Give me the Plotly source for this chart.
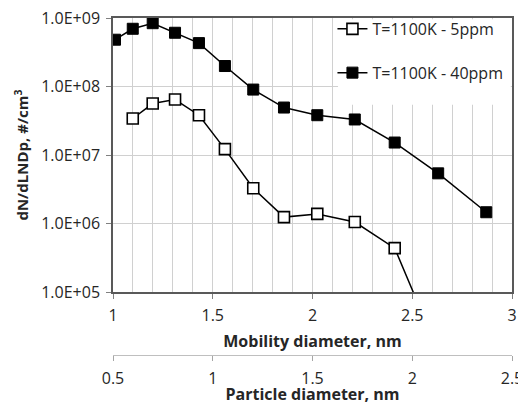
import plotly.graph_objects as go

# ---- data ----
mobility_5ppm = [1.099, 1.199, 1.311, 1.431, 1.561, 1.703, 1.857, 2.024, 2.212, 2.412, 2.633]
conc_5ppm = [3.41e7, 5.64e7, 6.45e7, 3.81e7, 1.22e7, 3.27e6, 1.24e6, 1.38e6, 1.05e6, 4.37e5, 1.3e4]

mobility_40ppm = [1.01, 1.099, 1.199, 1.311, 1.431, 1.561, 1.703, 1.857, 2.024, 2.212, 2.412, 2.63, 2.871]
conc_40ppm = [4.82e8, 6.96e8, 8.40e8, 6.09e8, 4.30e8, 1.99e8, 9.02e7, 4.93e7, 3.81e7, 3.30e7, 1.52e7, 5.40e6, 1.46e6]

y_tickvals = [1e5, 1e6, 1e7, 1e8, 1e9]
y_ticktext = ["1.0E+05", "1.0E+06", "1.0E+07", "1.0E+08", "1.0E+09"]
mobility_ticks = [1, 1.5, 2, 2.5, 3]
particle_ticks = [0.5, 1, 1.5, 2, 2.5]

name_5 = "T=1100K - 5ppm"
name_40 = "T=1100K - 40ppm"

FONT = "Open Sans"
TXT = "#262626"

fig = go.Figure()
fig.add_trace(go.Scatter(
    x=mobility_5ppm, y=conc_5ppm, name=name_5, mode="lines+markers",
    line=dict(color="black", width=1.5),
    marker=dict(symbol="square", size=11, color="white", line=dict(color="black", width=1.6)),
    legendgroup="a",
))
fig.add_trace(go.Scatter(
    x=mobility_40ppm, y=conc_40ppm, name=name_40, mode="lines+markers",
    line=dict(color="black", width=1.5),
    marker=dict(symbol="square", size=11, color="black", line=dict(color="black", width=1)),
    legendgroup="b",
))
# helper trace so the secondary (particle diameter) axis is drawn
fig.add_trace(go.Scatter(
    x=particle_ticks, y=[None] * len(particle_ticks), xaxis="x2", mode="markers",
    showlegend=False, hoverinfo="skip",
))

# the page body has an 8px margin, so the figure starts at (8, 8)
W, H = 518, 397
L, R, T, B = 105, 14, 10, 50
plot_bottom_px = 292 - 8
paper_h = H - T - B
y_dom0 = (H - B - plot_bottom_px) / paper_h

# white backdrop of the legend (hides the gridlines behind it), kept just inside the frame
fig.add_shape(
    type="rect", xref="paper", yref="paper",
    x0=0.564, x1=1.0 - 1.2 / 399, y0=y_dom0 + (1 - y_dom0) * 0.683, y1=1.0 - 1.2 / paper_h,
    fillcolor="white", line=dict(width=0), layer="above",
)

fig.update_layout(
    width=W, height=H,
    margin=dict(l=L, r=R, t=T, b=B, autoexpand=False),
    paper_bgcolor="white", plot_bgcolor="white",
    font=dict(family=FONT, size=16, color=TXT),
    showlegend=True,
    legend=dict(
        x=0.55, y=1.018, xanchor="left", yanchor="top",
        bgcolor="rgba(0,0,0,0)", borderwidth=0,
        traceorder="grouped", tracegroupgap=20,
        font=dict(family=FONT, size=16, color=TXT),
        itemwidth=30,
    ),
    xaxis=dict(
        range=[1, 3], tickvals=mobility_ticks, ticks="outside", ticklen=5,
        tickcolor="#808080", ticklabelstandoff=3, ticklabeloverflow="allow",
        showgrid=True, gridcolor="#d0d0d0", gridwidth=1,
        minor=dict(dtick=0.1, showgrid=True, gridcolor="#d0d0d0", gridwidth=1, ticks=""),
        showline=True, linecolor="#595959", linewidth=1.5, mirror=True,
        zeroline=False, automargin=False,
        title=dict(text="<b>Mobility diameter, nm</b>", font=dict(family=FONT, size=16, color=TXT), standoff=11),
        anchor="y",
    ),
    xaxis2=dict(
        overlaying="x", anchor="free", position=0, side="bottom",
        range=[0.5, 2.5], tickvals=particle_ticks, ticks="outside", ticklen=5,
        tickcolor="#a6a6a6", ticklabelstandoff=4, ticklabeloverflow="allow",
        showgrid=False, showline=True, linecolor="#bfbfbf", linewidth=1,
        zeroline=False,
        title=dict(text="<b>Particle diameter, nm</b>", font=dict(family=FONT, size=16, color=TXT), standoff=10),
        automargin=False,
    ),
    yaxis=dict(
        type="log", range=[5, 9], domain=[y_dom0, 1],
        tickvals=y_tickvals, ticktext=y_ticktext,
        ticks="outside", ticklen=5, tickcolor="#808080", ticklabelstandoff=3,
        ticklabeloverflow="allow",
        showgrid=True, gridcolor="#d0d0d0", gridwidth=1,
        showline=True, linecolor="#595959", linewidth=1.5, mirror=True,
        zeroline=False, automargin=False,
        title=dict(text="<b>dN/dLNDp, #/cm<sup>3</sup></b>", font=dict(family=FONT, size=15, color=TXT), standoff=9),
    ),
)

fig.write_html("out.html")
